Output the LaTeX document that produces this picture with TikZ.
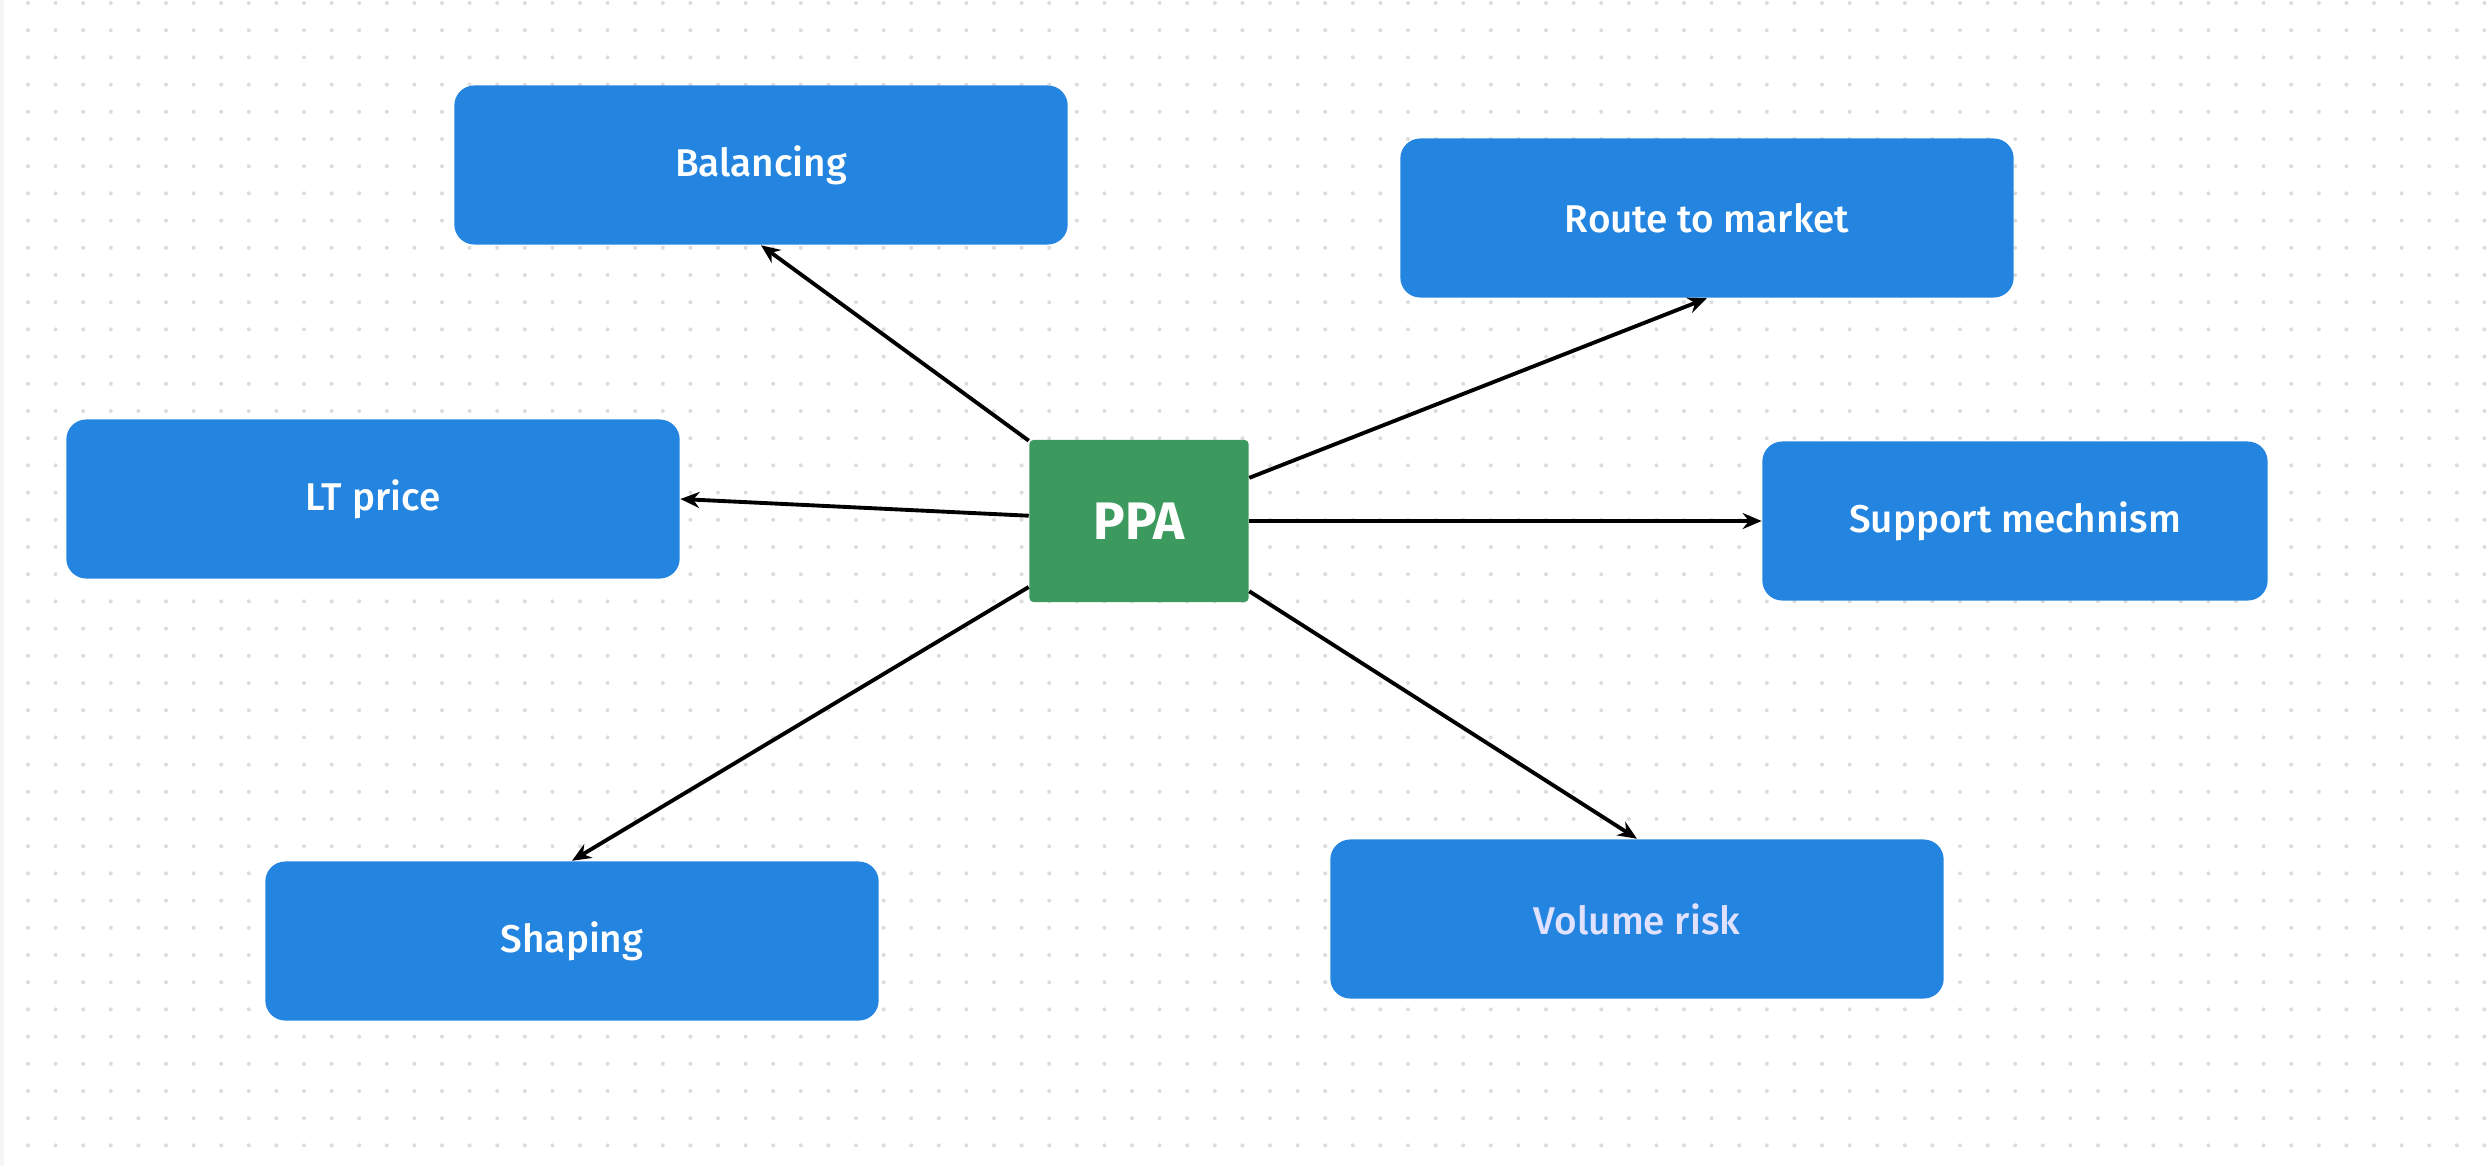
\documentclass[tikz,border=0pt]{standalone}
\usepackage{fontspec}
\setmainfont{Fira Sans}
\newfontfamily\medfont{Fira Sans Medium}
\usetikzlibrary{arrows.meta}
\definecolor{boxblue}{RGB}{35,133,224}
\definecolor{ppagreen}{RGB}{60,154,95}
\definecolor{dotgray}{RGB}{220,220,220}
\tikzset{
  item/.style={fill=boxblue, rounded corners=0.2cm, minimum width=6.13cm, minimum height=1.59cm, text=white, font=\medfont\fontsize{11}{13}\selectfont, inner sep=0pt},
  hub/.style={fill=ppagreen, rounded corners=0.04cm, minimum width=2.19cm, minimum height=1.62cm, text=white, font=\fontsize{15}{18}\selectfont\bfseries, inner sep=0pt},
  link/.style={draw=black, line width=1.1pt, -{Stealth[length=0.19cm,width=0.16cm]}}
}
\begin{document}
\begin{tikzpicture}[x=0.01cm,y=-0.01cm]
\useasboundingbox (0,0) rectangle (2490,1166);
\fill[white] (0,0) rectangle (2490,1166);
\fill[gray!8] (0,0) rectangle (4,1166);
\foreach \i in {0,...,90}{
  \foreach \j in {0,...,42}{
    \fill[dotgray] (28+27.6*\i, 3+27.2*\j) circle[radius=0.02cm];
  }
}
\node[hub] (ppa) at (1139,521) {PPA};
\node[item] (bal) at (761,165) {Balancing};
\node[item] (rtm) at (1707,218) {Route to market};
\node[item] (ltp) at (373,499) {LT price};
\node[item, minimum width=5.05cm] (sup) at (2015,521) {Support mechnism};
\node[item] (shp) at (572,941) {Shaping};
\node[item, text=blue!12!white] (vol) at (1637,919) {Volume risk};
\draw[link] (ppa) -- (bal.south);
\draw[link] (ppa) -- (rtm.south);
\draw[link] (ppa) -- (ltp.east);
\draw[link] (ppa) -- (sup.west);
\draw[link] (ppa) -- (shp.north);
\draw[link] (ppa) -- (vol.north);
\end{tikzpicture}
\end{document}
